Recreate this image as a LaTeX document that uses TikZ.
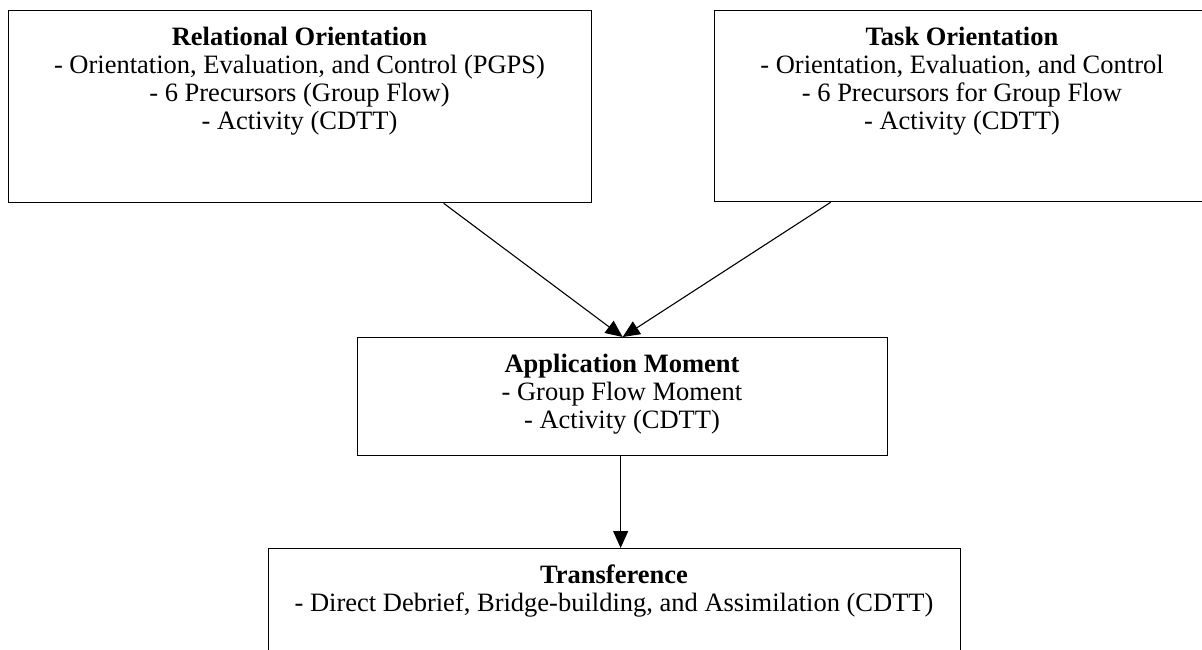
\documentclass[tikz,border=0pt]{standalone}
\usepackage{fontspec}
\setmainfont{Liberation Serif}
\usetikzlibrary{arrows.meta}
\begin{document}
\begin{tikzpicture}[x=1pt,y=-1pt,
  boxnode/.style={draw=black, line width=1.3pt, rectangle, inner sep=0pt, anchor=north west},
  txt/.style={anchor=base, inner sep=0pt, font=\fontsize{26.5}{28.3}\selectfont},
  txtb/.style={txt, font=\fontsize{26.5}{28.3}\selectfont\bfseries},
  conn/.style={draw=black, line width=1.1pt, -{Triangle[length=17pt,width=15pt]}}]
\useasboundingbox (0,0) rectangle (1202,649);
% boxes
\node[boxnode, minimum width=583pt, minimum height=192pt] (ro) at (8,10) {};
\node[boxnode, minimum width=500pt, minimum height=191pt] (to) at (714,10) {};
\node[boxnode, minimum width=530pt, minimum height=118pt] (am) at (357,337) {};
\node[boxnode, minimum width=692pt, minimum height=140pt] (tr) at (268,548) {};
% texts
\node[txtb] (ro1) at (299.5,45) {Relational Orientation};
\node[txt] (ro2) at (299.5,73.3) {- Orientation, Evaluation, and Control (PGPS)};
\node[txt] (ro3) at (299.5,101.6) {- 6 Precursors (Group Flow)};
\node[txt] (ro4) at (299.5,129.9) {- Activity (CDTT)};
\node[txtb] (to1) at (962,45) {Task Orientation};
\node[txt] (to2) at (962,73.3) {- Orientation, Evaluation, and Control};
\node[txt] (to3) at (962,101.6) {- 6 Precursors for Group Flow};
\node[txt] (to4) at (962,129.9) {- Activity (CDTT)};
\node[txtb] (am1) at (622,372) {Application Moment};
\node[txt] (am2) at (622,400.3) {- Group Flow Moment};
\node[txt] (am3) at (622,428.6) {- Activity (CDTT)};
\node[txtb] (tr1) at (614,583) {Transference};
\node[txt] (tr2) at (614,611.3) {- Direct Debrief, Bridge-building, and Assimilation (CDTT)};
% connectors
\coordinate (s1) at ([xshift=143.5pt]ro.south);
\coordinate (s2) at ([xshift=-134pt]to.south);
\coordinate (t12) at (am.north);
\draw[conn] (s1) -- (t12);
\draw[conn] (s2) -- (t12);
\draw[conn] ([xshift=-2pt]am.south) -- ([xshift=6pt]tr.north);
\end{tikzpicture}
\end{document}
